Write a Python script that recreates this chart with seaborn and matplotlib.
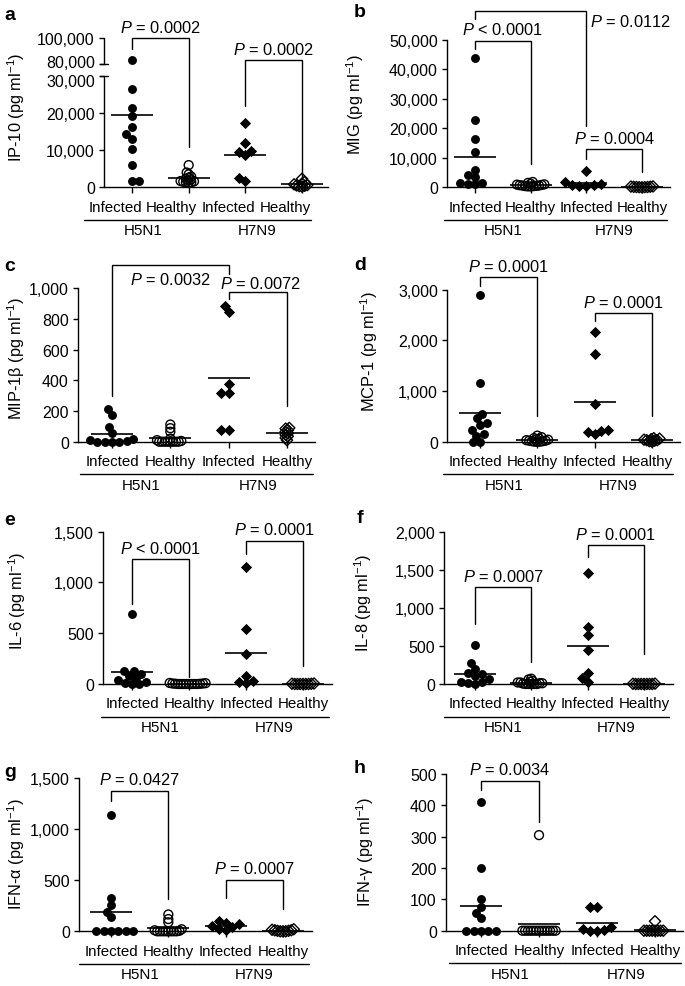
import numpy as np
import pandas as pd
import matplotlib
matplotlib.use("Agg")
import matplotlib.pyplot as plt
import matplotlib.transforms as mtransforms
from matplotlib.ticker import FixedLocator, FuncFormatter
import seaborn as sns
import warnings
warnings.filterwarnings("ignore")

# ---------------- data ----------------
groups = ["H5N1 Infected", "H5N1 Healthy", "H7N9 Infected", "H7N9 Healthy"]
tick_labels = ["Infected", "Healthy", "Infected", "Healthy"]
strains = ["H5N1", "H7N9"]

ip10_h5_inf = [83000, 26700, 21400, 19300, 16300, 14300, 13100, 10400, 5900, 1800, 1800]
ip10_h5_hea = [6000, 4000, 3500, 2900, 2600, 2300, 2100, 1900, 1700, 1600, 1500, 1400, 1300, 1200]
ip10_h7_inf = [17500, 12000, 9700, 9600, 8600, 2500, 1800]
ip10_h7_hea = [2300, 1400, 1000, 800, 600, 500, 400, 300, 200]
ip10_ticks = [0, 10000, 20000, 30000, 80000, 100000]

mig_h5_inf = [43800, 22800, 16200, 11900, 5900, 4000, 3500, 1500, 1300, 1200, 1100]
mig_h5_hea = [1800, 1500, 1200, 1000, 900, 800, 700, 600, 600, 500, 400, 400, 300, 300]
mig_h7_inf = [5600, 1800, 1200, 900, 700, 500, 300]
mig_h7_hea = [300, 250, 200, 150, 100, 100, 50, 50, 0]
mig_ticks = [0, 10000, 20000, 30000, 40000, 50000]

mip_h5_inf = [213, 176, 96, 54, 20, 10, 5, 0, 0, 0, 0]
mip_h5_hea = [112, 88, 65, 20, 10, 5, 0, 0, 0, 0, 0, 0, 0, 0]
mip_h7_inf = [887, 848, 376, 315, 315, 76, 76]
mip_h7_hea = [90, 85, 75, 65, 55, 45, 35, 25, 10]
mip_ticks = [0, 200, 400, 600, 800, 1000]

mcp_h5_inf = [2895, 1150, 556, 458, 366, 333, 229, 144, 118, 0, 0]
mcp_h5_hea = [120, 90, 70, 60, 50, 40, 30, 20, 20, 10, 10, 0, 0, 0]
mcp_h7_inf = [2157, 1732, 752, 229, 216, 200, 150]
mcp_h7_hea = [70, 60, 50, 40, 30, 30, 20, 10, 0]
mcp_ticks = [0, 1000, 2000, 3000]

il6_h5_inf = [693, 131, 128, 100, 82, 60, 40, 20, 10, 0, 0]
il6_h5_hea = [10, 8, 5, 5, 3, 2, 0, 0, 0, 0, 0, 0, 0, 0]
il6_h7_inf = [1154, 546, 294, 82, 29, 20, 10]
il6_h7_hea = [5, 3, 2, 0, 0, 0, 0, 0, 0]
il6_ticks = [0, 500, 1000, 1500]

il8_h5_inf = [509, 270, 196, 139, 130, 100, 60, 30, 20, 10, 0]
il8_h5_hea = [70, 60, 40, 30, 20, 20, 10, 10, 5, 0, 0, 0, 0, 0]
il8_h7_inf = [1457, 752, 643, 448, 143, 74, 22]
il8_h7_hea = [5, 3, 0, 0, 0, 0, 0, 0, 0]
il8_ticks = [0, 500, 1000, 1500, 2000]

ifna_h5_inf = [1143, 325, 256, 192, 136, 0, 0, 0, 0, 0, 0]
ifna_h5_hea = [165, 120, 88, 20, 10, 5, 0, 0, 0, 0, 0, 0, 0, 0]
ifna_h7_inf = [100, 85, 70, 55, 40, 25, 10]
ifna_h7_hea = [20, 15, 10, 10, 5, 5, 0, 0, 0]
ifna_ticks = [0, 500, 1000, 1500]

ifng_h5_inf = [412, 200, 100, 75, 55, 40, 0, 0, 0, 0, 0]
ifng_h5_hea = [305, 0, 0, 0, 0, 0, 0, 0, 0, 0, 0, 0, 0, 0]
ifng_h7_inf = [75, 75, 12, 5, 3, 0, 0]
ifng_h7_hea = [30, 0, 0, 0, 0, 0, 0, 0, 0]
ifng_ticks = [0, 100, 200, 300, 400, 500]

# P-value annotations: (x1, x2, y_top, y_left_end, y_right_end, text, text_anchor or None, ha)
brackets = {
    "a": [(0, 1, 100000, 91500, 11000, "$P$ = 0.0002", None, "center"),
          (2, 3, 83100, 22000, 2240, "$P$ = 0.0002", None, "center")],
    "b": [(0, 1, 49650, 46800, 7900, "$P$ < 0.0001", None, "center"),
          (0, 2, 59800, 57000, 20900, "$P$ = 0.0112", (2.06, 54500), "left"),
          (2, 3, 12900, 9600, 5100, "$P$ = 0.0004", None, "center")],
    "c": [(0, 2, 1152, 300, 1093, "$P$ = 0.0032", (1.0, 1028), "center"),
          (2, 3, 978, 930, 235, "$P$ = 0.0072", (2.55, 1000), "center")],
    "d": [(0, 1, 3244, 3079, 513, "$P$ = 0.0001", None, "center"),
          (2, 3, 2540, 2390, 513, "$P$ = 0.0001", None, "center")],
    "e": [(0, 1, 1231, 788, 66, "$P$ < 0.0001", None, "center"),
          (2, 3, 1412, 1281, 180, "$P$ = 0.0001", None, "center")],
    "f": [(0, 1, 1270, 788, 293, "$P$ = 0.0007", None, "center"),
          (2, 3, 1825, 1664, 394, "$P$ = 0.0001", None, "center")],
    "g": [(0, 1, 1378, 1280, 317, "$P$ = 0.0427", None, "center"),
          (2, 3, 506, 323, 219, "$P$ = 0.0007", None, "center")],
    "h": [(0, 1, 479, 450, 346, "$P$ = 0.0034", None, "center")],
}

panels = [
    ("a", "IP-10 (pg ml$^{-1}$)", [ip10_h5_inf, ip10_h5_hea, ip10_h7_inf, ip10_h7_hea], ip10_ticks),
    ("b", "MIG (pg ml$^{-1}$)", [mig_h5_inf, mig_h5_hea, mig_h7_inf, mig_h7_hea], mig_ticks),
    ("c", "MIP-1β (pg ml$^{-1}$)", [mip_h5_inf, mip_h5_hea, mip_h7_inf, mip_h7_hea], mip_ticks),
    ("d", "MCP-1 (pg ml$^{-1}$)", [mcp_h5_inf, mcp_h5_hea, mcp_h7_inf, mcp_h7_hea], mcp_ticks),
    ("e", "IL-6 (pg ml$^{-1}$)", [il6_h5_inf, il6_h5_hea, il6_h7_inf, il6_h7_hea], il6_ticks),
    ("f", "IL-8 (pg ml$^{-1}$)", [il8_h5_inf, il8_h5_hea, il8_h7_inf, il8_h7_hea], il8_ticks),
    ("g", "IFN-α (pg ml$^{-1}$)", [ifna_h5_inf, ifna_h5_hea, ifna_h7_inf, ifna_h7_hea], ifna_ticks),
    ("h", "IFN-γ (pg ml$^{-1}$)", [ifng_h5_inf, ifng_h5_hea, ifng_h7_inf, ifng_h7_hea], ifng_ticks),
]

# ---------------- layout (pixels) ----------------
W, H = 685, 987
layout = {
    "a": dict(left=104, right=328, top=39.2, zero=188.3, c0=132, c3=302, ylab=(16, 0.54), letter=(4, 20), shift=-17),
    "b": dict(left=447, right=670, top=40.7, zero=188.3, c0=475, c3=642, ylab=(355, 0.57), letter=(354, 16.7), shift=0),
    "c": dict(left=78, right=315, top=289.3, zero=442.7, c0=112, c3=287, ylab=(16, 0.55), letter=(4, 270.7), shift=0),
    "d": dict(left=447, right=680, top=290.7, zero=442.7, c0=480, c3=652, ylab=(369, 0.6), letter=(354, 270), shift=-5),
    "e": dict(left=103, right=332, top=532.7, zero=685, c0=132, c3=303, ylab=(17.5, 0.55), letter=(4, 525), shift=0),
    "f": dict(left=444, right=673, top=532.7, zero=685, c0=475, c3=644, ylab=(363, 0.54), letter=(357, 523.3), shift=0),
    "g": dict(left=79, right=312, top=779.3, zero=932.3, c0=111, c3=283, ylab=(16, 0.51), letter=(4, 776.7), shift=0),
    "h": dict(left=446, right=683, top=775, zero=931.7, c0=481, c3=655, ylab=(365, 0.51), letter=(354, 773.3), shift=0),
}

sns.set_style("ticks")
plt.rcParams.update({
    "font.family": ["Liberation Sans", "DejaVu Sans"],
    "mathtext.fontset": "custom",
    "mathtext.rm": "Liberation Sans",
    "mathtext.it": "Liberation Sans:italic",
    "mathtext.bf": "Liberation Sans:bold",
    "axes.linewidth": 1.0,
    "axes.edgecolor": "black",
    "axes.labelcolor": "black",
    "text.color": "black",
    "xtick.color": "black",
    "ytick.color": "black",
})

fig = plt.figure(figsize=(W / 100, H / 100), dpi=100)
resize = []
FS_TICK, FS_CAT, FS_P, FS_LAB = 11.5, 10.9, 11.8, 11.8

for letter, ylabel, arrays, yticks in panels:
    L = layout[letter]
    ax = fig.add_axes([L["left"] / W, 1 - L["zero"] / H,
                       (L["right"] - L["left"]) / W, (L["zero"] - L["top"]) / H])
    df = pd.DataFrame({
        "group": np.repeat(groups, [len(a) for a in arrays]),
        "value": np.concatenate([np.asarray(a, float) for a in arrays]),
    })

    for gi, grp in enumerate(groups):
        sub = df[df["group"] == grp]
        filled = gi % 2 == 0
        marker = "o" if gi < 2 else "D"
        final = 6.4 if marker == "o" else 5.7
        n_before = len(ax.collections)
        sns.swarmplot(data=sub, x="group", y="value", order=groups, ax=ax,
                      marker=marker, size=5.0 if filled else 0.9, color="black",
                      facecolor="black" if filled else "none", edgecolor="black",
                      linewidth=0 if filled else 1.0, clip_on=False, zorder=3,
                      warn_thresh=1)
        for coll in ax.collections[n_before:]:
            if len(coll.get_offsets()) == 0:
                coll.set_visible(False)
            else:
                resize.append((coll, final))

    sns.pointplot(data=df, x="group", y="value", order=groups, estimator="mean",
                  errorbar=None, color="black", marker="_", markersize=30,
                  markeredgewidth=1.2, linestyle="none", ax=ax, zorder=4, clip_on=False)

    top = yticks[-1]
    if letter == "a":
        bp_y = [-1e7, 30000, 80000, 1e7]
        bp_t = [-1e7, 30000, 33300, 33300 + (1e7 - 80000) * 0.35]
        ax.set_yscale("function", functions=(lambda y: np.interp(y, bp_y, bp_t),
                                             lambda t: np.interp(t, bp_t, bp_y)))
        ax.spines["left"].set_visible(False)
        ytr = ax.get_yaxis_transform()
        cap = 4 / (L["right"] - L["left"])
        for seg in [(0, 30000), (80000, 100000)]:
            ax.plot([0, 0], seg, transform=ytr, color="black", lw=1, clip_on=False)
        for yc in [30000, 80000]:
            ax.plot([-cap, cap], [yc, yc], transform=ytr, color="black", lw=1, clip_on=False)

    sp = (L["c3"] - L["c0"]) / 3
    ax.set_xlim((L["left"] - L["c0"]) / sp, (L["right"] - L["c0"]) / sp)
    ax.set_ylim(0, top)
    ax.yaxis.set_major_locator(FixedLocator(yticks))
    ax.yaxis.set_major_formatter(FuncFormatter(lambda v, p: f"{int(round(v)):,}"))
    ax.set_xticks(range(4))
    ax.set_xticklabels(tick_labels)
    ax.tick_params(axis="x", length=4.3, width=1, pad=4.5, labelsize=FS_CAT, direction="out")
    ax.tick_params(axis="y", length=3.6, width=1, pad=3, labelsize=FS_TICK, direction="out")
    for s in ["top", "right"]:
        ax.spines[s].set_visible(False)
    ax.set_xlabel("")
    ax.set_ylabel(ylabel, fontsize=FS_LAB)
    ax.yaxis.label.set_va("center")
    ax.yaxis.set_label_coords((L["ylab"][0] - L["left"]) / (L["right"] - L["left"]), L["ylab"][1])

    if letter == "a":
        # nudge the two labels at the axis break apart so they do not collide
        ticks = ax.yaxis.get_major_ticks()
        for tk, dy in zip(ticks[3:5], [-3.3, 3.3]):
            tk.label1.set_transform(tk.label1.get_transform() +
                                    mtransforms.ScaledTranslation(0, dy / 100, fig.dpi_scale_trans))

    shift = L["shift"]
    if shift:
        off = mtransforms.ScaledTranslation(shift / 100, 0, fig.dpi_scale_trans)
        for lbl in ax.get_xticklabels():
            lbl.set_transform(lbl.get_transform() + off)

    # strain underlines and labels
    tr_line = ax.get_xaxis_transform() + mtransforms.ScaledTranslation(shift / 100, -32.5 / 100, fig.dpi_scale_trans)
    tr_text = ax.get_xaxis_transform() + mtransforms.ScaledTranslation(shift / 100, -47 / 100, fig.dpi_scale_trans)
    for k, strain in enumerate(strains):
        c = 2 * k
        ax.plot([c - 0.55, c + 1.45], [0, 0], transform=tr_line, color="black", lw=1, clip_on=False)
        ax.text(c + 0.5, 0, strain, transform=tr_text, ha="center", va="baseline", fontsize=FS_CAT)

    # P-value brackets
    for x1, x2, yt, yl, yr, txt, anchor, ha in brackets[letter]:
        ax.plot([x1, x1, x2, x2], [yl, yt, yt, yr], color="black", lw=1, clip_on=False,
                solid_joinstyle="miter", zorder=5)
        if anchor is None:
            ax.annotate(txt, xy=((x1 + x2) / 2, yt), xytext=(0, 4.5), textcoords="offset points",
                        ha="center", va="baseline", fontsize=FS_P, annotation_clip=False)
        else:
            ax.text(anchor[0], anchor[1], txt, ha=ha, va="baseline", fontsize=FS_P, clip_on=False)

    lx, ly = L["letter"]
    fig.text(lx / W, 1 - ly / H, letter, fontsize=14, fontweight="bold", va="baseline", ha="left")

# compute swarm positions with compact spacing, then enlarge markers to their display size
fig.canvas.draw()
for coll, s in resize:
    if "draw" in coll.__dict__:
        del coll.__dict__["draw"]
    coll.set_sizes([s ** 2])

fig.savefig("out.png", dpi=100)
